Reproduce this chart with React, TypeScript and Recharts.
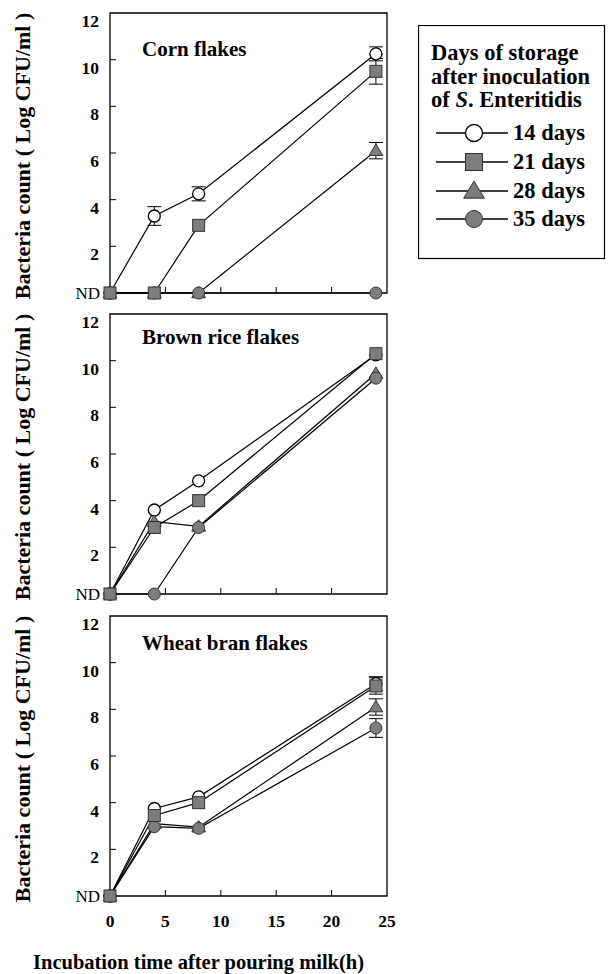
import React from 'react';
import { LineChart, Line, XAxis, YAxis, ErrorBar, ReferenceArea, Label } from 'recharts';

const hours = [0, 4, 8, 24];
const xTicks = [0, 5, 10, 15, 20, 25];
const yTicks = [0, 2, 4, 6, 8, 10, 12];
const storageLabels = ['14 days', '21 days', '28 days', '35 days'];
const panelTitles = ['Corn flakes', 'Brown rice flakes', 'Wheat bran flakes'];
const yAxisTitle = 'Bacteria count ( Log CFU/ml )';
const xAxisTitle = 'Incubation time after pouring milk(h)';

// corn flakes
const corn14 = [0, 3.3, 4.25, 10.25];
const corn21 = [0, 0, 2.9, 9.5];
const corn28 = [0, 0, 0, 6.1];
const corn35 = [0, 0, 0, 0];
const corn14Err = [null, 0.4, 0.3, 0.3];
const corn21Err = [null, null, null, 0.55];
const corn28Err = [null, null, null, 0.35];
const corn35Err = [null, null, null, null];

// brown rice flakes
const rice14 = [0, 3.6, 4.85, 10.25];
const rice21 = [0, 2.85, 4.0, 10.3];
const rice28 = [0, 3.1, 2.9, 9.45];
const rice35 = [0, 0, 2.85, 9.25];
const noErr = [null, null, null, null];

// wheat bran flakes
const bran14 = [0, 3.75, 4.25, 9.1];
const bran21 = [0, 3.45, 4.0, 9.0];
const bran28 = [0, 3.1, 2.95, 8.1];
const bran35 = [0, 2.97, 2.9, 7.2];
const bran14Err = [null, null, null, 0.3];
const bran21Err = [null, null, null, 0.35];
const bran28Err = [null, null, null, 0.35];
const bran35Err = [null, null, null, 0.4];

const FONT = '"Liberation Serif", "Times New Roman", serif';
const GRAY = '#7d7d7d';

const makeRows = (vals: number[][], errs: (number | null)[][]) =>
  hours.map((h, i) => ({
    h,
    d14: vals[0][i], d21: vals[1][i], d28: vals[2][i], d35: vals[3][i],
    e14: errs[0][i], e21: errs[1][i], e28: errs[2][i], e35: errs[3][i],
  }));

const panels = [
  { title: panelTitles[0], rows: makeRows([corn14, corn21, corn28, corn35], [corn14Err, corn21Err, corn28Err, corn35Err]) },
  { title: panelTitles[1], rows: makeRows([rice14, rice21, rice28, rice35], [noErr, noErr, noErr, noErr]) },
  { title: panelTitles[2], rows: makeRows([bran14, bran21, bran28, bran35], [bran14Err, bran21Err, bran28Err, bran35Err]) },
];

// layout
const panelTops = [0, 301, 603];
const titleTops = [37, 24, 28];

// draw order: 14, 28, 35, then 21 on top
const series = [
  { key: 'd14', err: 'e14', kind: 'open', name: storageLabels[0] },
  { key: 'd28', err: 'e28', kind: 'tri', name: storageLabels[2] },
  { key: 'd35', err: 'e35', kind: 'dot', name: storageLabels[3] },
  { key: 'd21', err: 'e21', kind: 'sq', name: storageLabels[1] },
];
const legendOrder = ['open', 'sq', 'tri', 'dot'];

function Marker({ kind, cx, cy, s }: { kind: string; cx: number; cy: number; s: number }) {
  const h = s / 2;
  if (kind === 'open') return <circle cx={cx} cy={cy} r={h} fill="#fff" stroke="#000" strokeWidth={1.3} />;
  if (kind === 'sq') return <rect x={cx - h} y={cy - h} width={s} height={s} fill={GRAY} stroke="#333" strokeWidth={1} />;
  if (kind === 'tri')
    return (
      <polygon
        points={`${cx},${cy - h * 1.1} ${cx + h * 1.15},${cy + h * 0.8} ${cx - h * 1.15},${cy + h * 0.8}`}
        fill={GRAY}
        stroke="#333"
        strokeWidth={1}
      />
    );
  return <circle cx={cx} cy={cy} r={h} fill={GRAY} stroke="#333" strokeWidth={1} />;
}

const dotFor = (kind: string) => (p: any) =>
  p.cx == null ? <g key={`${kind}-${p.index}`} /> : (
    <g key={`${kind}-${p.index}`}>
      <Marker kind={kind} cx={p.cx} cy={p.cy} s={12} />
    </g>
  );

const YTick = (p: any) => {
  const v = p.payload.value;
  return (
    <g>
      {v !== 0 && v !== 12 && <line x1={p.x} y1={p.y} x2={p.x + 6} y2={p.y} stroke="#000" />}
      {v === 0 ? (
        <text x={p.x - 10} y={p.y + 6} textAnchor="end" fontFamily={FONT} fontSize={17} fill="#000">ND</text>
      ) : (
        <text x={p.x - 11} y={p.y + 14} textAnchor="end" fontFamily={FONT} fontSize={17.5} fontWeight="bold" fill="#000">{v}</text>
      )}
    </g>
  );
};

const makeXTick = (showLabels: boolean) => (p: any) => {
  const v = p.payload.value;
  return (
    <g>
      {v !== 0 && v !== 25 && <line x1={p.x} y1={p.y} x2={p.x} y2={p.y - 6} stroke="#000" />}
      {showLabels && (
        <text x={p.x} y={p.y + 31} textAnchor="middle" fontFamily={FONT} fontSize={17.5} fontWeight="bold" fill="#000">{v}</text>
      )}
    </g>
  );
};

function Panel({ index }: { index: number }) {
  const panel = panels[index];
  const last = index === panels.length - 1;
  const height = last ? 371 : 323;
  return (
    <div style={{ position: 'absolute', left: 0, top: panelTops[index], width: 400, height }}>
      <LineChart width={400} height={height} data={panel.rows} margin={{ top: 13, right: 13, left: 50, bottom: 0 }}>
        <ReferenceArea x1={0} x2={25} y1={0} y2={12} fill="none" stroke="#000" strokeWidth={1.3} ifOverflow="visible" />
        <XAxis
          dataKey="h"
          type="number"
          domain={[0, 25]}
          ticks={xTicks}
          axisLine={false}
          tickLine={false}
          tickSize={0}
          tickMargin={0}
          height={last ? 78 : 30}
          tick={makeXTick(last)}
          interval={0}
        >
          {last && (
            <Label
              content={() => (
                <text x={33} y={366} fontFamily={FONT} fontSize={20.5} fontWeight="bold" fill="#000">{xAxisTitle}</text>
              )}
            />
          )}
        </XAxis>
        <YAxis
          type="number"
          domain={[0, 12]}
          ticks={yTicks}
          axisLine={false}
          tickLine={false}
          tickSize={0}
          tickMargin={0}
          width={60}
          tick={YTick}
          interval={0}
        >
          <Label
            content={() => (
              <text
                x={30}
                y={156}
                transform="rotate(-90 30 156)"
                textAnchor="middle"
                fontFamily={FONT}
                fontSize={22}
                fontWeight="bold"
                fill="#000"
              >
                {yAxisTitle}
              </text>
            )}
          />
        </YAxis>
        {series.map((s) => (
          <Line
            key={s.key}
            dataKey={s.key}
            name={s.name}
            type="linear"
            stroke="#000"
            strokeWidth={1.2}
            dot={dotFor(s.kind)}
            activeDot={false}
            isAnimationActive={false}
          >
            <ErrorBar dataKey={s.err} width={7} stroke="#000" strokeWidth={1} direction="y" />
          </Line>
        ))}
      </LineChart>
      <div
        style={{
          position: 'absolute',
          left: 142,
          top: titleTops[index],
          fontFamily: FONT,
          fontSize: 21,
          fontWeight: 'bold',
          lineHeight: '24px',
          whiteSpace: 'nowrap',
        }}
      >
        {panel.title}
      </div>
    </div>
  );
}

function StorageLegend() {
  const rowY = [108, 137, 166, 194];
  return (
    <svg style={{ position: 'absolute', left: 418, top: 25 }} width={188} height={235}>
      <rect x={0.5} y={0.5} width={186} height={233} fill="#fff" stroke="#000" strokeWidth={1.2} />
      <g fontFamily={FONT} fontSize={22.5} fontWeight="bold" fill="#000">
        <text x={13} y={35}>Days of storage</text>
        <text x={13} y={59}>after inoculation</text>
        <text x={13} y={82}>
          of <tspan fontStyle="italic">S</tspan>. Enteritidis
        </text>
      </g>
      {legendOrder.map((kind, i) => (
        <g key={kind}>
          <line x1={18} y1={rowY[i]} x2={90} y2={rowY[i]} stroke="#000" strokeWidth={1.5} />
          <Marker kind={kind} cx={56} cy={rowY[i]} s={kind === 'tri' ? 18 : 17} />
          <text x={95} y={rowY[i] + 7} fontFamily={FONT} fontSize={22.5} fontWeight="bold" fill="#000">
            {storageLabels[i]}
          </text>
        </g>
      ))}
    </svg>
  );
}

export default function App() {
  return (
    <div style={{ position: 'absolute', left: 0, top: 0, width: 616, height: 974, background: '#fff' }}>
      {panels.map((_, i) => (
        <Panel key={i} index={i} />
      ))}
      <StorageLegend />
    </div>
  );
}
